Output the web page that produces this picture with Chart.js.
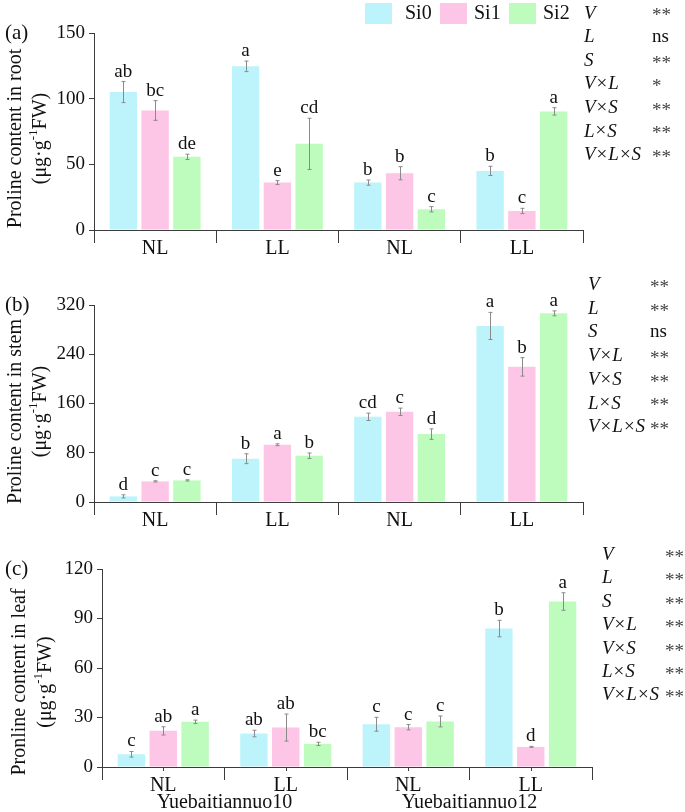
<!DOCTYPE html>
<html>
<head>
<meta charset="utf-8">
<script src="https://cdn.jsdelivr.net/npm/chart.js@4.4.1/dist/chart.umd.min.js"></script>
<style>
  html, body { margin: 0; padding: 0; background: #fff; }
  #wrap { position: relative; width: 685px; height: 812px; }
  .panel { position: absolute; left: 0; width: 685px; }
</style>
</head>
<body>
<div id="wrap">
  <div class="panel" style="top:0;height:260px"><canvas id="chart-root"></canvas></div>
  <div class="panel" style="top:260px;height:270px"><canvas id="chart-stem"></canvas></div>
  <div class="panel" style="top:530px;height:282px"><canvas id="chart-leaf"></canvas></div>
</div>
<script>
// categories / series
const categories = ["NL", "LL", "NL", "LL"];
const cultivars = ["Yuebaitiannuo10", "Yuebaitiannuo12"];
const seriesNames = ["Si0", "Si1", "Si2"];
const seriesColors = ["#bdf4fc", "#fdc5e6", "#bdfcbd"];

// (a) root
const rootSi0 = [105, 124.6, 36.1, 45];
const rootSi1 = [91, 36.1, 43.2, 14.5];
const rootSi2 = [55.7, 65.6, 15.8, 90.3];
const rootErrSi0 = [8, 4, 2, 3.5];
const rootErrSi1 = [7.5, 1.5, 5, 2];
const rootErrSi2 = [2, 19.5, 2, 2.8];
const rootLetSi0 = ["ab", "a", "b", "b"];
const rootLetSi1 = ["bc", "e", "b", "c"];
const rootLetSi2 = ["de", "cd", "c", "a"];
const rootTicks = [0, 50, 100, 150];

// (b) stem
const stemSi0 = [9.2, 70.3, 138.4, 286];
const stemSi1 = [33.5, 93, 146.5, 219.5];
const stemSi2 = [35.1, 75.1, 110.3, 306.5];
const stemErrSi0 = [2.5, 8, 6, 22];
const stemErrSi1 = [1, 1.5, 6, 15];
const stemErrSi2 = [1, 4.5, 8.5, 4];
const stemLetSi0 = ["d", "b", "cd", "a"];
const stemLetSi1 = ["c", "a", "c", "b"];
const stemLetSi2 = ["c", "b", "d", "a"];
const stemTicks = [0, 80, 160, 240, 320];

// (c) leaf
const leafSi0 = [7.7, 20.3, 25.9, 83.9];
const leafSi1 = [21.9, 23.9, 24.1, 12.2];
const leafSi2 = [27.4, 14, 27.6, 100.3];
const leafErrSi0 = [1.7, 2, 4.2, 5];
const leafErrSi1 = [2.5, 8.2, 1.6, 0.3];
const leafErrSi2 = [1, 1, 3.3, 5.3];
const leafLetSi0 = ["c", "ab", "c", "b"];
const leafLetSi1 = ["ab", "ab", "c", "d"];
const leafLetSi2 = ["a", "bc", "c", "a"];
const leafTicks = [0, 30, 60, 90, 120];

// ANOVA significance
const factors = ["V", "L", "S", "V×L", "V×S", "L×S", "V×L×S"];
const rootSig = ["**", "ns", "**", "*", "**", "**", "**"];
const stemSig = ["**", "**", "ns", "**", "**", "**", "**"];
const leafSig = ["**", "**", "**", "**", "**", "**", "**"];

const FONT = "'Liberation Serif', 'Times New Roman', serif";
const AXIS = "#3c3c3c";

// error bars, letters, titles, stats, legend
const decorPlugin = {
  id: "decor",
  afterDatasetsDraw(chart, args, o) {
    const ctx = chart.ctx;
    const { top, bottom } = chart.chartArea;
    const xs = chart.scales.x, ys = chart.scales.y;
    ctx.save();

    chart.data.datasets.forEach((ds, i) => {
      chart.getDatasetMeta(i).data.forEach((bar, j) => {
        const v = ds.data[j], e = o.errors[i][j];
        const yHi = ys.getPixelForValue(v + e);
        const yLo = ys.getPixelForValue(v - e);
        const x = Math.round(bar.x) + 0.5;
        ctx.strokeStyle = "#8a8a8a";
        ctx.lineWidth = 1;
        ctx.beginPath();
        ctx.moveTo(x, yHi); ctx.lineTo(x, yLo);
        ctx.moveTo(x - 2, yHi); ctx.lineTo(x + 2, yHi);
        ctx.moveTo(x - 2, yLo); ctx.lineTo(x + 2, yLo);
        ctx.stroke();
        ctx.fillStyle = "#111";
        ctx.font = "19px " + FONT;
        ctx.textAlign = "center";
        ctx.textBaseline = "alphabetic";
        ctx.fillText(o.letters[i][j], bar.x, yHi - 5);
      });
    });

    // panel tag
    ctx.fillStyle = "#111";
    ctx.font = "21px " + FONT;
    ctx.textAlign = "left";
    ctx.textBaseline = "middle";
    ctx.fillText(o.tag, 5, top);

    // y title (two lines, rotated)
    const cy = (top + bottom) / 2 + o.titleShift;
    ctx.save();
    ctx.translate(o.titleX[0], cy);
    ctx.rotate(-Math.PI / 2);
    ctx.font = "20px " + FONT;
    ctx.textAlign = "center";
    ctx.fillText(o.title, 0, 0);
    ctx.restore();

    ctx.save();
    ctx.translate(o.titleX[1], cy);
    ctx.rotate(-Math.PI / 2);
    const parts = [["(μg·g", 20, 0], ["-1", 13, -7], ["FW)", 20, 0]];
    let w = 0;
    parts.forEach(p => { ctx.font = p[1] + "px " + FONT; w += ctx.measureText(p[0]).width; });
    let px = -w / 2;
    ctx.textAlign = "left";
    parts.forEach(p => {
      ctx.font = p[1] + "px " + FONT;
      ctx.fillText(p[0], px, p[2]);
      px += ctx.measureText(p[0]).width;
    });
    ctx.restore();

    // significance table
    factors.forEach((f, k) => {
      const y = o.statY + k * o.statStep;
      let sx = o.statX;
      const toks = f.split("×");
      toks.forEach((t, n) => {
        ctx.font = "italic 19px " + FONT;
        ctx.fillText(t, sx, y);
        sx += ctx.measureText(t).width + 1;
        if (n < toks.length - 1) {
          ctx.font = "19px " + FONT;
          ctx.fillText("×", sx, y);
          sx += ctx.measureText("×").width + 1;
        }
      });
      ctx.font = "19px " + FONT;
      ctx.fillStyle = o.sig[k] === "ns" ? "#111" : "#444";
      ctx.fillText(o.sig[k], o.starX, o.sig[k] === "ns" ? y : y + 3);
      ctx.fillStyle = "#111";
    });

    // legend
    if (o.legend) {
      chart.data.datasets.forEach((ds, i) => {
        ctx.fillStyle = ds.backgroundColor;
        ctx.fillRect(o.legend.boxX[i], 3, 27, 21);
        ctx.fillStyle = "#111";
        ctx.font = "20px " + FONT;
        ctx.fillText(ds.label, o.legend.textX[i], 14);
      });
    }

    // cultivar names + short centre ticks
    if (o.cultivars) {
      ctx.strokeStyle = AXIS;
      ctx.lineWidth = 1;
      categories.forEach((c, i) => {
        const x = Math.round(xs.getPixelForTick(i)) + 0.5;
        ctx.beginPath();
        ctx.moveTo(x, bottom); ctx.lineTo(x, bottom + 4);
        ctx.stroke();
      });
      ctx.font = "20px " + FONT;
      ctx.textAlign = "center";
      cultivars.forEach((name, k) => {
        const x = (xs.getPixelForTick(2 * k) + xs.getPixelForTick(2 * k + 1)) / 2;
        ctx.fillText(name, x, bottom + 36);
      });
    }
    ctx.restore();
  }
};

function makeChart(id, series, ticks, axisLeft, xHeight, padding, decor) {
  const el = document.getElementById(id);
  if (!el) return;
  return new Chart(el, {
    type: "bar",
    data: {
      labels: categories,
      datasets: series.map((d, i) => ({
        label: seriesNames[i],
        data: d,
        backgroundColor: seriesColors[i],
        borderWidth: 0,
        categoryPercentage: 0.78,
        barPercentage: 0.86,
      })),
    },
    options: {
      responsive: true,
      maintainAspectRatio: false,
      animation: false,
      devicePixelRatio: 1,
      layout: { padding: padding },
      scales: {
        x: {
          grid: { drawOnChartArea: false, drawTicks: true, tickLength: 13, offset: true, color: AXIS },
          border: { display: true, color: AXIS, width: 1 },
          ticks: { color: "#111", font: { family: FONT, size: 20 }, padding: -6 },
          afterFit: (s) => { s.height = xHeight; },
        },
        y: {
          min: ticks[0],
          max: ticks[ticks.length - 1],
          afterBuildTicks: (s) => { s.ticks = ticks.map(v => ({ value: v })); },
          grid: { drawOnChartArea: false, drawTicks: true, tickLength: 5, color: AXIS },
          border: { display: true, color: AXIS, width: 1 },
          ticks: { color: "#111", font: { family: FONT, size: 19 }, padding: 4 },
          afterFit: (s) => { s.width = axisLeft; },
        },
      },
      plugins: {
        legend: { display: false },
        tooltip: { enabled: false },
        decor: decor,
      },
    },
    plugins: [decorPlugin],
  });
}

makeChart("chart-root", [rootSi0, rootSi1, rootSi2], rootTicks, 94, 30,
  { left: 0, right: 102, top: 33, bottom: 0 },
  {
    tag: "(a)", title: "Proline content in root", titleX: [16, 41], titleShift: 7,
    errors: [rootErrSi0, rootErrSi1, rootErrSi2],
    letters: [rootLetSi0, rootLetSi1, rootLetSi2],
    sig: rootSig, statX: 584, starX: 652, statY: 13.5, statStep: 23.6,
    legend: { boxX: [365, 440, 509], textX: [405, 474, 543] },
  });

makeChart("chart-stem", [stemSi0, stemSi1, stemSi2], stemTicks, 94, 28,
  { left: 0, right: 102, top: 45, bottom: 0 },
  {
    tag: "(b)", title: "Proline content in stem", titleX: [16, 41], titleShift: 8,
    errors: [stemErrSi0, stemErrSi1, stemErrSi2],
    letters: [stemLetSi0, stemLetSi1, stemLetSi2],
    sig: stemSig, statX: 588, starX: 650, statY: 25, statStep: 23.7,
  });

makeChart("chart-leaf", [leafSi0, leafSi1, leafSi2], leafTicks, 102, 45,
  { left: 0, right: 93, top: 39, bottom: 0 },
  {
    tag: "(c)", title: "Pronline content in leaf", titleX: [20, 46], titleShift: 14,
    errors: [leafErrSi0, leafErrSi1, leafErrSi2],
    letters: [leafLetSi0, leafLetSi1, leafLetSi2],
    sig: leafSig, statX: 602, starX: 665, statY: 25, statStep: 23.4,
    cultivars: true,
  });
</script>
</body>
</html>
